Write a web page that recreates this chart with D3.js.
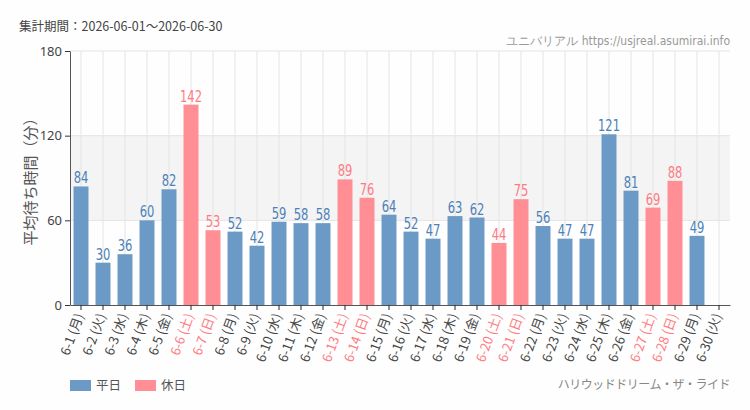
<!DOCTYPE html>
<html>
<head>
<meta charset="utf-8">
<script src="https://cdn.jsdelivr.net/npm/d3@7"></script>
<style>
  body { margin: 0; background: #fdfefd; }
  svg { display: block; }
  .narrow { font-family: 'DejaVu Sans Condensed', 'DejaVu Sans', sans-serif; font-stretch: condensed; }
</style>
</head>
<body>
<div id="chart"></div>
<script>
const days = ['6-1 (月)', '6-2 (火)', '6-3 (水)', '6-4 (木)', '6-5 (金)', '6-6 (土)', '6-7 (日)',
  '6-8 (月)', '6-9 (火)', '6-10 (水)', '6-11 (木)', '6-12 (金)', '6-13 (土)', '6-14 (日)',
  '6-15 (月)', '6-16 (火)', '6-17 (水)', '6-18 (木)', '6-19 (金)', '6-20 (土)', '6-21 (日)',
  '6-22 (月)', '6-23 (火)', '6-24 (水)', '6-25 (木)', '6-26 (金)', '6-27 (土)', '6-28 (日)',
  '6-29 (月)', '6-30 (火)']
const waits = [84, 30, 36, 60, 82, 142, 53, 52, 42, 59, 58, 58, 89, 76,
  64, 52, 47, 63, 62, 44, 75, 56, 47, 47, 121, 81, 69, 88, 49, null]
const holidays = ['6-6 (土)', '6-7 (日)', '6-13 (土)', '6-14 (日)', '6-20 (土)', '6-21 (日)', '6-27 (土)', '6-28 (日)']
const yTicks = [0, 60, 120, 180]
const legendNames = ['平日', '休日']

const W = 750, H = 410
const margin = {top: 51, right: 20, bottom: 105, left: 70}
const width = W - margin.left - margin.right
const height = H - margin.top - margin.bottom

const blue = '#6b9ac6', pink = '#ff8f95'
const blueText = '#4d80b8', pinkText = '#ff7a82'

const data = days.map((d, i) => ({day: d, value: waits[i], holiday: holidays.includes(d)}))

const svg = d3.select('#chart').append('svg')
  .attr('width', W).attr('height', H)

svg.append('text')
  .attr('x', 19).attr('y', 31)
  .attr('font-family', 'Noto Sans CJK JP')
  .attr('font-size', 12.5)
  .attr('fill', '#444')
  .text('集計期間：2026-06-01～2026-06-30')

svg.append('text')
  .attr('class', 'narrow')
  .attr('x', 730).attr('y', 45)
  .attr('text-anchor', 'end')
  .attr('font-size', 12)
  .attr('fill', '#999')
  .text('ユニバリアル  https://usjreal.asumirai.info')

const g = svg.append('g')
  .attr('transform', `translate(${margin.left}, ${margin.top})`)

const x = d3.scaleBand()
  .domain(days)
  .range([0, width])
  .paddingInner(0.32)
  .paddingOuter(0.16)

const y = d3.scaleLinear()
  .domain([0, 180])
  .range([height, 0])

// shaded band 60-120
g.append('rect')
  .attr('x', 0).attr('width', width)
  .attr('y', y(120)).attr('height', y(60) - y(120))
  .attr('fill', '#f3f4f3')

// grid
g.selectAll('.vgrid').data(days).enter().append('line')
  .attr('x1', d => x(d) + x.bandwidth() / 2)
  .attr('x2', d => x(d) + x.bandwidth() / 2)
  .attr('y1', 0).attr('y2', height)
  .attr('stroke', '#e4e4e4')

g.selectAll('.hgrid').data(yTicks.slice(1)).enter().append('line')
  .attr('x1', 0).attr('x2', width)
  .attr('y1', d => y(d)).attr('y2', d => y(d))
  .attr('stroke', '#e4e4e4')

// bars
g.selectAll('.bar').data(data.filter(d => d.value != null)).enter().append('rect')
  .attr('x', d => x(d.day))
  .attr('width', x.bandwidth())
  .attr('y', d => y(d.value))
  .attr('height', d => height - y(d.value))
  .attr('fill', d => d.holiday ? pink : blue)

// value labels, squeezed horizontally to look like a narrow face
g.selectAll('.lbl').data(data.filter(d => d.value != null)).enter().append('text')
  .attr('class', 'narrow')
  .attr('transform', d => `translate(${x(d.day) + x.bandwidth() / 2}, ${y(d.value) - 3}) scale(0.8, 1)`)
  .attr('text-anchor', 'middle')
  .attr('font-size', 16)
  .attr('fill', d => d.holiday ? pinkText : blueText)
  .text(d => d.value)

// axes
const yAxis = g.append('g')
  .call(d3.axisLeft(y).tickValues(yTicks).tickSize(5).tickSizeOuter(0))
yAxis.select('.domain').attr('stroke', '#555')
yAxis.selectAll('.tick line').attr('stroke', '#333')
yAxis.selectAll('.tick text')
  .attr('font-family', 'Noto Sans')
  .attr('font-size', 13)
  .attr('fill', '#444')

const xAxis = g.append('g')
  .attr('transform', `translate(0, ${height})`)
  .call(d3.axisBottom(x).tickSize(5).tickSizeOuter(0))
xAxis.select('.domain').attr('stroke', '#555')
xAxis.selectAll('.tick line').attr('stroke', '#222')
xAxis.selectAll('.tick text')
  .attr('font-family', 'Noto Sans CJK JP')
  .attr('font-size', 13)
  .attr('fill', d => holidays.includes(d) ? pinkText : '#444')
  .attr('text-anchor', 'end')
  .attr('dy', '0.35em')
  .attr('transform', 'translate(0, 5) rotate(-70)')
  .attr('y', 0).attr('x', -4)

svg.append('text')
  .attr('transform', `translate(36, ${margin.top + height / 2}) rotate(-90)`)
  .attr('text-anchor', 'middle')
  .attr('font-family', 'Noto Sans CJK JP')
  .attr('font-size', 15)
  .attr('fill', '#555')
  .text('平均待ち時間（分）')

// legend
const legend = svg.append('g').attr('transform', 'translate(70, 385)')
legendNames.forEach((name, i) => {
  const item = legend.append('g').attr('transform', `translate(${i * 65}, 0)`)
  item.append('rect').attr('width', 21).attr('height', 11).attr('y', -5)
    .attr('fill', i === 0 ? blue : pink)
  item.append('text').attr('x', 26).attr('y', 5)
    .attr('font-family', 'Noto Sans CJK JP').attr('font-size', 12.5).attr('fill', '#555')
    .text(name)
})

svg.append('text')
  .attr('x', 730).attr('y', 389)
  .attr('text-anchor', 'end')
  .attr('font-family', 'Noto Sans CJK JP')
  .attr('font-size', 12)
  .attr('letter-spacing', -0.5)
  .attr('fill', '#888')
  .text('ハリウッドドリーム・ザ・ライド')
</script>
</body>
</html>
